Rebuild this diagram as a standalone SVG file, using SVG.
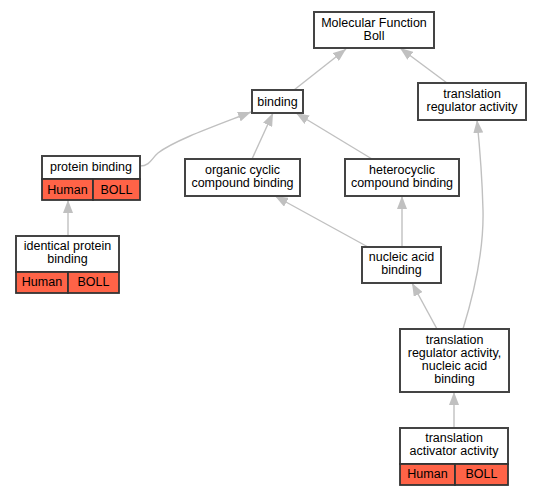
<svg xmlns="http://www.w3.org/2000/svg" width="541" height="496" viewBox="0 0 541 496">
<style>
.box{fill:#ffffff;stroke:#444444;stroke-width:2}
.red{fill:#ff6347;stroke:#333333;stroke-width:1.8}
.t{font-family:"Liberation Sans",Arial,sans-serif;font-size:12.5px;fill:#000000;text-anchor:middle}
.e{fill:none;stroke:#c0c0c0;stroke-width:1.4;marker-end:url(#ah)}
</style>
<defs>
<marker id="ah" viewBox="0 0 13 10" refX="13" refY="5" markerWidth="13" markerHeight="10" markerUnits="userSpaceOnUse" orient="auto">
<path d="M0,0 L13,5 L0,10 z" fill="#c0c0c0"/>
</marker>
</defs>
<rect width="541" height="496" fill="#ffffff"/>
<g id="edges">
<path class="e" d="M294,90 L346,49"/>
<path class="e" d="M447,83 L400,48"/>
<path class="e" d="M140,166 C150,166 152,158 158,153 C175,140 215,126 251,112"/>
<path class="e" d="M252,159 L273,113"/>
<path class="e" d="M372,159 L296,113"/>
<path class="e" d="M68,236 L68,200"/>
<path class="e" d="M368,247 L275,196"/>
<path class="e" d="M402,247 L402,196"/>
<path class="e" d="M437,329 L412,283"/>
<path class="e" d="M463,329 C475,290 484,250 483,210 C482,170 480,150 477,120"/>
<path class="e" d="M454,428 L454,392"/>
</g>
<g id="mf">
<rect class="box" x="314" y="12" width="120" height="36"/>
<text class="t" x="374" y="27">Molecular Function</text>
<text class="t" x="374" y="40">Boll</text>
</g>
<g id="binding">
<rect class="box" x="252" y="90" width="51" height="23"/>
<text class="t" x="277.5" y="105.5">binding</text>
</g>
<g id="trans_reg">
<rect class="box" x="418" y="83" width="108" height="37"/>
<text class="t" x="472" y="98">translation</text>
<text class="t" x="472" y="111">regulator activity</text>
</g>
<g id="protein_binding">
<rect class="box" x="42" y="156" width="98" height="23"/>
<rect class="red" x="42" y="179" width="51" height="21"/>
<rect class="red" x="93" y="179" width="47" height="21"/>
<text class="t" x="91" y="170.5">protein binding</text>
<text class="t" x="67.5" y="193.5">Human</text>
<text class="t" x="116.5" y="193.5">BOLL</text>
</g>
<g id="organic">
<rect class="box" x="185" y="159" width="115" height="37"/>
<text class="t" x="242.5" y="173.5">organic cyclic</text>
<text class="t" x="242.5" y="186.5">compound binding</text>
</g>
<g id="heterocyclic">
<rect class="box" x="345" y="159" width="114" height="37"/>
<text class="t" x="402" y="173.5">heterocyclic</text>
<text class="t" x="402" y="186.5">compound binding</text>
</g>
<g id="identical">
<rect class="box" x="16" y="236" width="103" height="36"/>
<rect class="red" x="16" y="272" width="52" height="21"/>
<rect class="red" x="68" y="272" width="51" height="21"/>
<text class="t" x="67.5" y="249.5">identical protein</text>
<text class="t" x="67.5" y="262.5">binding</text>
<text class="t" x="42" y="285.5">Human</text>
<text class="t" x="93.5" y="285.5">BOLL</text>
</g>
<g id="nucleic">
<rect class="box" x="362" y="247" width="79" height="36"/>
<text class="t" x="401.5" y="260.5">nucleic acid</text>
<text class="t" x="401.5" y="273.5">binding</text>
</g>
<g id="trans_reg_na">
<rect class="box" x="400" y="329" width="109" height="63"/>
<text class="t" x="454.5" y="343.5">translation</text>
<text class="t" x="454.5" y="356.5">regulator activity,</text>
<text class="t" x="454.5" y="369.5">nucleic acid</text>
<text class="t" x="454.5" y="382.5">binding</text>
</g>
<g id="trans_act">
<rect class="box" x="400" y="428" width="108" height="36"/>
<rect class="red" x="400" y="464" width="55" height="21"/>
<rect class="red" x="455" y="464" width="53" height="21"/>
<text class="t" x="454" y="441.5">translation</text>
<text class="t" x="454" y="454.5">activator activity</text>
<text class="t" x="427.5" y="477.5">Human</text>
<text class="t" x="481.5" y="477.5">BOLL</text>
</g>
</svg>
